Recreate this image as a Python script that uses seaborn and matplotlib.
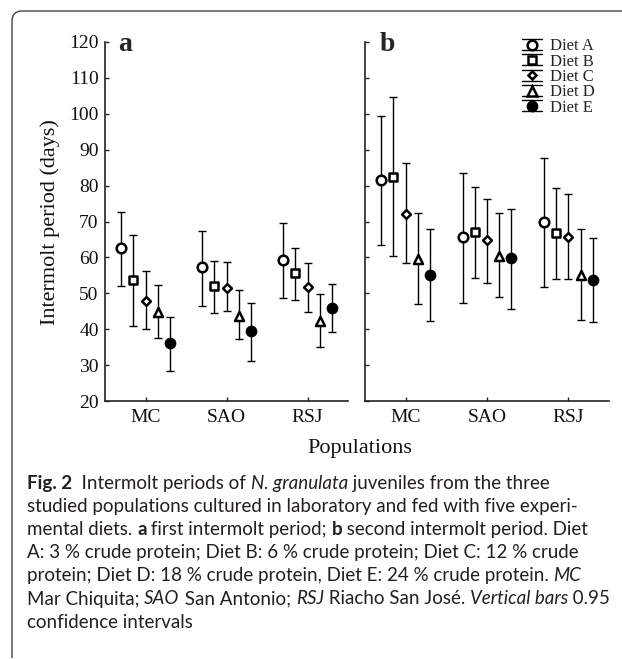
import numpy as np
import pandas as pd
import matplotlib
matplotlib.use("Agg")
import matplotlib.pyplot as plt
import seaborn as sns
from matplotlib.lines import Line2D
from matplotlib.legend_handler import HandlerBase
from matplotlib.path import Path
from matplotlib.patches import PathPatch
from matplotlib.font_manager import FontProperties

# ---------------- data ----------------
populations = ["MC", "SAO", "RSJ"]
diets = ["Diet A", "Diet B", "Diet C", "Diet D", "Diet E"]
yticks = [20, 30, 40, 50, 60, 70, 80, 90, 100, 110, 120]

# panel a: first intermolt period (rows = diets A..E, cols = MC, SAO, RSJ)
first_mean = [[62.5, 57.2, 59.3],
              [53.7, 51.9, 55.6],
              [47.9, 51.6, 51.7],
              [44.7, 43.7, 42.2],
              [36.1, 39.6, 46.0]]
first_upper = [[72.7, 67.4, 69.5],
               [66.2, 59.1, 62.5],
               [56.1, 58.6, 58.4],
               [52.2, 50.8, 49.7],
               [43.3, 47.4, 52.6]]
first_lower = [[51.9, 46.6, 48.8],
               [41.0, 44.5, 48.0],
               [40.0, 45.2, 44.9],
               [37.5, 37.3, 35.0],
               [28.4, 31.2, 39.1]]

# panel b: second intermolt period
second_mean = [[81.5, 65.6, 70.0],
               [82.5, 67.2, 66.7],
               [72.1, 64.9, 65.6],
               [59.6, 60.5, 55.1],
               [55.1, 59.8, 53.7]]
second_upper = [[99.4, 83.4, 87.8],
                [104.7, 79.7, 79.4],
                [86.2, 76.4, 77.6],
                [72.5, 72.5, 67.9],
                [67.8, 73.5, 65.5]]
second_lower = [[63.5, 47.4, 51.7],
                [60.5, 54.2, 54.0],
                [58.4, 53.0, 53.9],
                [47.1, 48.9, 42.6],
                [42.3, 45.6, 41.9]]

# ---------------- styles ----------------
markers = {"Diet A": "o", "Diet B": "s", "Diet C": "D", "Diet D": "^", "Diet E": "o"}
msize = {"Diet A": 48, "Diet B": 40, "Diet C": 20, "Diet D": 42, "Diet E": 44}
faces = {"Diet A": "white", "Diet B": "white", "Diet C": "white",
         "Diet D": "white", "Diet E": "black"}
dodge_step = 0.15


def build(mean, lower, upper, panel):
    rows = []
    for i, d in enumerate(diets):
        for j, p in enumerate(populations):
            rows.append(dict(panel=panel, diet=d, population=p,
                             mean=mean[i][j], lower=lower[i][j], upper=upper[i][j],
                             x=j + (i - 2) * dodge_step))
    return pd.DataFrame(rows)


df = pd.concat([build(first_mean, first_lower, first_upper, "a"),
                build(second_mean, second_lower, second_upper, "b")],
               ignore_index=True)

sns.set_style("ticks")
plt.rcParams["font.family"] = ["Liberation Serif", "DejaVu Serif"]

W, H = 622, 659
fig = plt.figure(figsize=(W / 100, H / 100), dpi=100)


def fx(px):
    return px / W


def fy(py):
    return 1 - py / H


ax_a = fig.add_axes([fx(105), fy(401), (348 - 105) / W, (401 - 42) / H])
ax_b = fig.add_axes([fx(365), fy(401), (609 - 365) / W, (401 - 42) / H])

for ax, panel in [(ax_a, "a"), (ax_b, "b")]:
    sub_p = df[df.panel == panel]
    for d in diets:
        sub = sub_p[sub_p.diet == d]
        ax.errorbar(sub["x"], sub["mean"],
                    yerr=[sub["mean"] - sub["lower"], sub["upper"] - sub["mean"]],
                    fmt="none", ecolor="black", elinewidth=1.0, capsize=3,
                    capthick=1.0, zorder=2)
        sns.scatterplot(data=sub, x="x", y="mean", marker=markers[d],
                        s=msize[d], color=faces[d], edgecolor="black",
                        linewidth=1.8, ax=ax, zorder=3, legend=False)
    ax.set_xlim(-0.5, 2.5)
    ax.set_ylim(20, 120)
    ax.set_xticks(range(len(populations)))
    ax.set_xticklabels(populations)
    ax.set_yticks(yticks)
    ax.set_xlabel("")
    ax.set_ylabel("")
    for s in ["top", "right"]:
        ax.spines[s].set_visible(False)
    for s in ["left", "bottom"]:
        ax.spines[s].set_linewidth(1.2)
        ax.spines[s].set_color("#222222")
    ax.tick_params(axis="both", direction="in", length=3, width=1.0,
                   color="#222222", labelsize=14, labelcolor="#111111")
    ax.tick_params(axis="x", pad=5.5)
    ax.tick_params(axis="y", pad=4.5)
    ax.set_facecolor("none")

ax_b.tick_params(axis="y", labelleft=False)

ax_a.text(0.082, 0.975, "a", transform=ax_a.transAxes, fontsize=20,
          fontweight="bold", ha="center", va="baseline")
ax_b.text(0.09, 0.975, "b", transform=ax_b.transAxes, fontsize=20,
          fontweight="bold", ha="center", va="baseline")

fig.text(fx(50), fy(222), "Intermolt period (days)", rotation=90,
         fontsize=16, ha="center", va="center", color="#111111")
fig.text(fx(360), fy(448), "Populations", fontsize=16, ha="center",
         va="center", color="#111111")


# ---------------- legend ----------------
class CapHandler(HandlerBase):
    def create_artists(self, legend, orig_handle, xdescent, ydescent,
                       width, height, fontsize, trans):
        cx = 0.5 * width - xdescent
        cy = 0.5 * height - ydescent
        h = 4.0
        arts = [
            Line2D([cx - 0.5 * width, cx + 0.5 * width], [cy + h, cy + h],
                   color="black", lw=1.0),
            Line2D([cx - 0.5 * width, cx + 0.5 * width], [cy - h, cy - h],
                   color="black", lw=1.0),
            Line2D([cx, cx], [cy - h, cy + h], color="black", lw=1.0),
            Line2D([cx], [cy], marker=orig_handle.get_marker(),
                   markersize=orig_handle.get_markersize(),
                   markerfacecolor=orig_handle.get_markerfacecolor(),
                   markeredgecolor="black", markeredgewidth=1.8, lw=0),
        ]
        for a in arts:
            a.set_transform(trans)
        return arts


handles = [Line2D([], [], marker=markers[d], markersize=np.sqrt(msize[d]),
                  markerfacecolor=faces[d], markeredgecolor="black", lw=0)
           for d in diets]
ax_b.legend(handles, diets, handler_map={Line2D: CapHandler()},
            loc="upper left", bbox_to_anchor=(0.645, 1.012), frameon=False,
            fontsize=12, handlelength=1.2, handleheight=0.9,
            handletextpad=0.45, labelspacing=-0.08, borderpad=0,
            borderaxespad=0)

# ---------------- caption ----------------
cap_family = ["Lato", "DejaVu Sans"]
renderer = fig.canvas.get_renderer()


def text_width(s, fs, weight="normal", style="normal"):
    fp = FontProperties(family=cap_family, size=fs, weight=weight, style=style)
    w1, _, _ = renderer.get_text_width_height_descent("|" + s + "|", fp, ismath=False)
    w2, _, _ = renderer.get_text_width_height_descent("||", fp, ismath=False)
    return w1 - w2


N, B, I = "normal", "bold", "italic"
caption = [
    [("Fig. 2", B), ("  Intermolt periods of ", N), ("N. granulata", I),
     (" juveniles from the three", N)],
    [("studied populations cultured in laboratory and fed with five experi-", N)],
    [("mental diets. ", N), ("a", B), (" first intermolt period; ", N), ("b", B),
     (" second intermolt period. Diet", N)],
    [("A: 3 % crude protein; Diet B: 6 % crude protein; Diet C: 12 % crude", N)],
    [("protein; Diet D: 18 % crude protein, Diet E: 24 % crude protein. ", N),
     ("MC", I)],
    [("Mar Chiquita; ", N), ("SAO", I), (" San Antonio; ", N), ("RSJ", I),
     (" Riacho San José. ", N), ("Vertical bars", I), (" 0.95", N)],
    [("confidence intervals", N)],
]
# right ends of the lines in the reference (pixels)
line_right = [569, 597, 608, 581, 583, 608, 175]
cap_left = 27.0


def seg_props(kind):
    return ("bold" if kind == B else "normal", "italic" if kind == I else "normal")


def line_width(line, fs):
    return sum(text_width(seg, fs, *seg_props(kind)) for seg, kind in line)


fits = [10 * (r - cap_left) / line_width(line, 10)
        for line, r in zip(caption[:6], line_right[:6])]
cap_fs = min(fits)

for k, line in enumerate(caption):
    xpx = cap_left
    ypx = 483 + 23.2 * k
    for seg, kind in line:
        weight, style = seg_props(kind)
        fig.text(fx(xpx), fy(ypx), seg, fontsize=cap_fs, fontweight=weight,
                 fontstyle=style, family=cap_family, ha="left", va="center",
                 color="#231f20")
        xpx += text_width(seg, cap_fs, weight, style)

# ---------------- frame ----------------
verts = [(622, 11), (22, 11), (12, 11), (12, 21), (12, 658)]
codes = [Path.MOVETO, Path.LINETO, Path.CURVE3, Path.CURVE3, Path.LINETO]
frame = PathPatch(Path([(fx(x), fy(y)) for x, y in verts], codes),
                  transform=fig.transFigure, fill=False, edgecolor="#444444",
                  lw=1.0)
fig.patches.append(frame)

fig.savefig("out.png", dpi=100)
